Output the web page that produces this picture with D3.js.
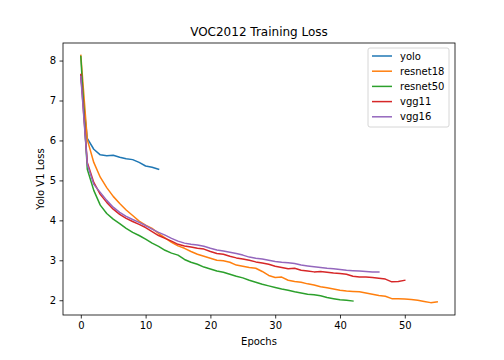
<!DOCTYPE html>
<html>
<head>
<meta charset="utf-8">
<script src="https://cdn.jsdelivr.net/npm/d3@7"></script>
<style>
  body { margin: 0; background: #fff; }
  svg { font-family: "DejaVu Sans", sans-serif; }
</style>
</head>
<body>
<svg id="chart" width="504" height="360"></svg>
<script>
// loss per epoch
const yolo = [7.62, 6.05, 5.78, 5.64, 5.62, 5.63, 5.58, 5.54, 5.52, 5.45, 5.36, 5.33, 5.28];
const resnet18 = [8.13, 6.02, 5.45, 5.08, 4.82, 4.6, 4.42, 4.26, 4.12, 3.98, 3.88, 3.8, 3.67, 3.56, 3.45, 3.36,
  3.3, 3.22, 3.15, 3.1, 3.05, 3.0, 2.99, 2.95, 2.88, 2.85, 2.82, 2.8, 2.72, 2.62, 2.57, 2.58, 2.5, 2.47, 2.45,
  2.41, 2.38, 2.34, 2.31, 2.28, 2.25, 2.23, 2.22, 2.21, 2.18, 2.15, 2.12, 2.1, 2.04, 2.04, 2.03, 2.02, 2.0,
  1.97, 1.94, 1.96];
const resnet50 = [8.1, 5.28, 4.75, 4.38, 4.17, 4.03, 3.92, 3.8, 3.7, 3.62, 3.53, 3.43, 3.35, 3.25, 3.18, 3.13,
  3.02, 2.95, 2.9, 2.83, 2.78, 2.73, 2.7, 2.65, 2.6, 2.56, 2.5, 2.45, 2.4, 2.36, 2.32, 2.28, 2.25, 2.21, 2.18,
  2.15, 2.14, 2.11, 2.07, 2.04, 2.01, 2.0, 1.98];
const vgg11 = [7.65, 5.45, 4.95, 4.65, 4.45, 4.28, 4.15, 4.05, 3.97, 3.9, 3.82, 3.72, 3.62, 3.55, 3.48, 3.4,
  3.36, 3.33, 3.3, 3.28, 3.22, 3.17, 3.15, 3.1, 3.06, 3.03, 3.0, 2.96, 2.93, 2.9, 2.85, 2.82, 2.79, 2.8, 2.75,
  2.73, 2.71, 2.72, 2.7, 2.68, 2.67, 2.65, 2.6, 2.58, 2.58, 2.57, 2.55, 2.53, 2.46, 2.47, 2.5];
const vgg16 = [7.6, 5.4, 4.9, 4.7, 4.5, 4.33, 4.2, 4.1, 4.02, 3.95, 3.87, 3.78, 3.7, 3.63, 3.55, 3.48, 3.43,
  3.4, 3.38, 3.35, 3.3, 3.26, 3.23, 3.2, 3.17, 3.13, 3.08, 3.05, 3.03, 3.0, 2.97, 2.95, 2.94, 2.92, 2.88, 2.86,
  2.84, 2.82, 2.8, 2.79, 2.77, 2.75, 2.74, 2.73, 2.72, 2.71, 2.71];

const seriesNames = ["yolo", "resnet18", "resnet50", "vgg11", "vgg16"];
const seriesValues = [yolo, resnet18, resnet50, vgg11, vgg16];
const colors = ["#1f77b4", "#ff7f0e", "#2ca02c", "#d62728", "#9467bd"];
const xTicks = [0, 10, 20, 30, 40, 50];
const yTicks = [2, 3, 4, 5, 6, 7, 8];

const margin = { top: 43, right: 49, bottom: 45, left: 63 };
const width = 504 - margin.left - margin.right;
const height = 360 - margin.top - margin.bottom;

const svg = d3.select("#chart");
const g = svg.append("g").attr("transform", `translate(${margin.left},${margin.top})`);

// matplotlib style 5% padding around the data
const xMax = d3.max(seriesValues, (s) => s.length - 1);
const yMin = d3.min(seriesValues, (s) => d3.min(s));
const yMax = d3.max(seriesValues, (s) => d3.max(s));
const xPad = xMax * 0.05;
const yPad = (yMax - yMin) * 0.05;

const xScale = d3.scaleLinear().domain([-xPad, xMax + xPad]).range([0, width]);
const yScale = d3.scaleLinear().domain([yMin - yPad, yMax + yPad]).range([height, 0]);

const line = d3.line()
  .x((d, i) => xScale(i))
  .y((d) => yScale(d));

seriesValues.forEach((s, i) => {
  g.append("path")
    .attr("d", line(s))
    .attr("fill", "none")
    .attr("stroke", colors[i])
    .attr("stroke-width", 1.5)
    .attr("stroke-linejoin", "round")
    .attr("stroke-linecap", "square");
});

// axes
const xAxis = g.append("g")
  .attr("transform", `translate(0,${height})`)
  .call(d3.axisBottom(xScale).tickValues(xTicks).tickFormat(d3.format("d")).tickSize(3.5).tickPadding(3.5));
const yAxis = g.append("g")
  .call(d3.axisLeft(yScale).tickValues(yTicks).tickFormat(d3.format("d")).tickSize(3.5).tickPadding(3.5));

[xAxis, yAxis].forEach((ax) => {
  ax.select(".domain").remove();
  ax.selectAll("line").attr("stroke", "#000").attr("stroke-width", 0.8);
  ax.selectAll("text").attr("font-size", 10).attr("fill", "#000")
    .attr("font-family", "DejaVu Sans, sans-serif");
});

// frame
g.append("rect")
  .attr("width", width)
  .attr("height", height)
  .attr("fill", "none")
  .attr("stroke", "#000")
  .attr("stroke-width", 0.8);

// title and labels
svg.append("text")
  .attr("x", margin.left + width / 2)
  .attr("y", margin.top - 7)
  .attr("text-anchor", "middle")
  .attr("font-size", 12)
  .text("VOC2012 Training Loss");

svg.append("text")
  .attr("x", margin.left + width / 2)
  .attr("y", margin.top + height + 30)
  .attr("text-anchor", "middle")
  .attr("font-size", 10)
  .text("Epochs");

svg.append("text")
  .attr("transform", `translate(44,${margin.top + height / 2}) rotate(-90)`)
  .attr("text-anchor", "middle")
  .attr("font-size", 10)
  .text("Yolo V1 Loss");

// legend
const legend = g.append("g").attr("transform", `translate(${width - 87},5)`);
legend.append("rect")
  .attr("width", 81)
  .attr("height", 79)
  .attr("rx", 2)
  .attr("fill", "#fff")
  .attr("fill-opacity", 0.8)
  .attr("stroke", "#ccc")
  .attr("stroke-width", 0.8);

seriesNames.forEach((name, i) => {
  const row = legend.append("g").attr("transform", `translate(0,${8 + i * 15.2})`);
  row.append("line")
    .attr("x1", 4).attr("x2", 24)
    .attr("stroke", colors[i])
    .attr("stroke-width", 1.5);
  row.append("text")
    .attr("x", 32)
    .attr("dy", "0.35em")
    .attr("font-size", 10)
    .text(name);
});
</script>
</body>
</html>
